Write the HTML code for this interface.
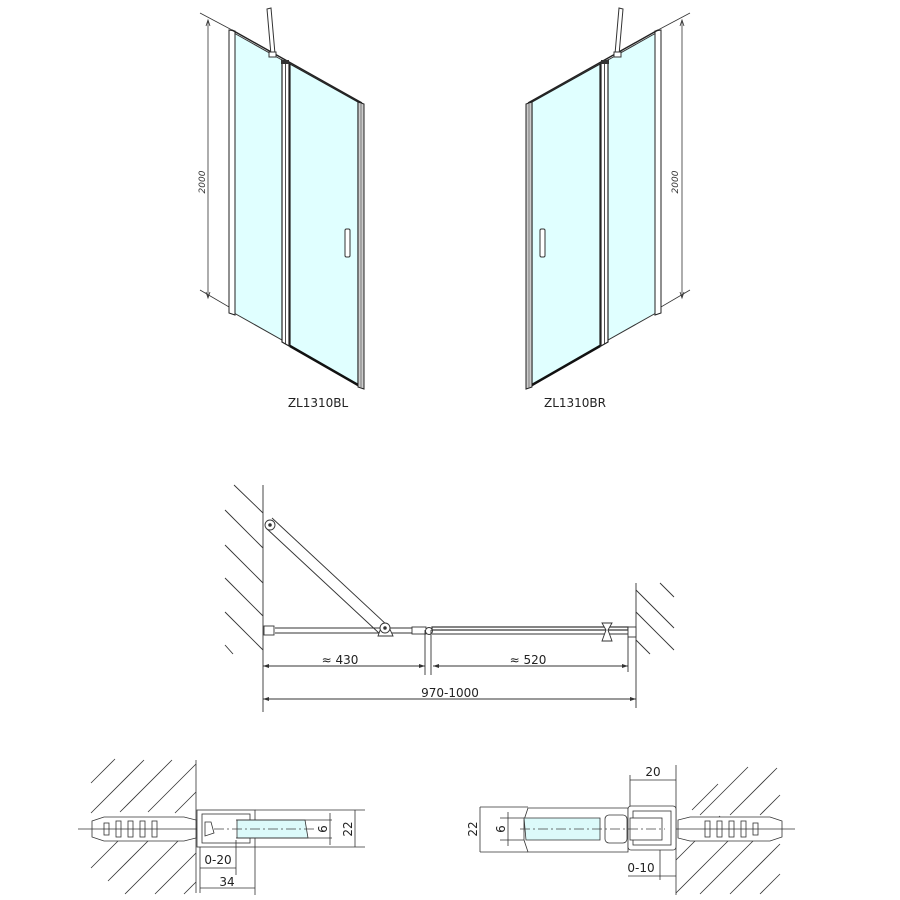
<!DOCTYPE html>
<html><head><meta charset="utf-8"><style>
html,body{margin:0;padding:0;background:#fff;}
svg{display:block;font-family:"DejaVu Sans","Liberation Sans",sans-serif;}
</style></head><body>
<svg width="900" height="900" viewBox="0 0 900 900" xmlns="http://www.w3.org/2000/svg">
<defs>
<g id="door">
  <!-- extension lines -->
  <line x1="200" y1="13" x2="232" y2="30" stroke="#333" stroke-width="0.8"/>
  <line x1="200" y1="290" x2="282" y2="338" stroke="#333" stroke-width="0.8"/>
  <line x1="208" y1="20" x2="208" y2="298" stroke="#333" stroke-width="0.8"/>
  <path d="M206,26 L208,20 L210,26" fill="none" stroke="#333" stroke-width="0.8"/>
  <path d="M206,292 L208,298 L210,292" fill="none" stroke="#333" stroke-width="0.8"/>
  <!-- fixed glass -->
  <polygon points="234,33 282,60 282,340 234,313" fill="#e0ffff" stroke="#333" stroke-width="1"/>
  <!-- wall strip -->
  <polygon points="229,30 235,31 235,315 229,313" fill="#fff" stroke="#222" stroke-width="1"/>
  <!-- divider -->
  <polygon points="282,60 289,63 289,346 282,342" fill="#fff" stroke="#222" stroke-width="1.2"/>
  <line x1="285.5" y1="62" x2="285.5" y2="344" stroke="#222" stroke-width="0.8"/>
  <!-- door glass -->
  <polygon points="290,64 358,102 358,385 290,346" fill="#e0ffff" stroke="#222" stroke-width="1.2"/>
  <line x1="290" y1="346" x2="358" y2="385" stroke="#111" stroke-width="2.5"/>
  <!-- top rail line -->
  <line x1="232" y1="30" x2="362" y2="103" stroke="#222" stroke-width="1.4"/>
  <!-- right post -->
  <polygon points="358,102 364,104 364,389 358,387" fill="#ccc" stroke="#222" stroke-width="1"/>
  <line x1="361" y1="104" x2="361" y2="388" stroke="#666" stroke-width="0.8"/>
  <!-- handle -->
  <rect x="345" y="229" width="5" height="28" rx="1.5" fill="#fff" stroke="#333" stroke-width="1"/>
  <!-- ceiling bracket -->
  <polygon points="267,9 271,8 275,54 271,55" fill="#fff" stroke="#333" stroke-width="1"/>
  <rect x="269" y="52" width="7" height="5" fill="#fff" stroke="#333" stroke-width="1"/>
  <rect x="281" y="60" width="8" height="4" fill="#333"/>
</g>
</defs>

<use href="#door"/>
<g transform="translate(890,0) scale(-1,1)"><use href="#door"/></g>

<text x="0" y="0" font-size="9" font-style="italic" fill="#333" transform="translate(205,182) rotate(-90)" text-anchor="middle">2000</text>
<text x="0" y="0" font-size="9" font-style="italic" fill="#333" transform="translate(678,182) rotate(-90)" text-anchor="middle">2000</text>
<text x="318" y="407" font-size="12" text-anchor="middle" fill="#222">ZL1310BL</text>
<text x="575" y="407" font-size="12" text-anchor="middle" fill="#222">ZL1310BR</text>

<!-- PLAN VIEW -->
<g stroke="#333" stroke-width="0.9" fill="none">
  <line x1="263" y1="485" x2="263" y2="712"/>
  <line x1="234" y1="485" x2="263" y2="513"/>
  <line x1="225" y1="510" x2="263" y2="548"/>
  <line x1="225" y1="545" x2="263" y2="583"/>
  <line x1="225" y1="578" x2="263" y2="616"/>
  <line x1="225" y1="612" x2="263" y2="650"/>
  <line x1="225" y1="645" x2="233" y2="654"/>
  <line x1="636" y1="583" x2="636" y2="708"/>
  <line x1="636" y1="590" x2="674" y2="628"/>
  <line x1="660" y1="583" x2="674" y2="597"/>
  <line x1="636" y1="612" x2="674" y2="650"/>
  <line x1="636" y1="640" x2="650" y2="654"/>
  <!-- glass fixed -->
  <line x1="275" y1="628" x2="412" y2="628"/>
  <line x1="275" y1="633" x2="412" y2="633"/>
  <rect x="264" y="626" width="10" height="9" fill="#fff"/>
  <!-- arm -->
  <line x1="272" y1="518" x2="388" y2="626"/>
  <line x1="266" y1="528" x2="380" y2="634"/>
  <circle cx="270" cy="525" r="5" fill="#fff"/>
  <circle cx="270" cy="525" r="1.3" fill="#333"/>
  <path d="M378,636 L382,625 L388,625 L393,636 Z" fill="#fff"/>
  <circle cx="385" cy="628" r="5" fill="#fff"/>
  <circle cx="385" cy="628" r="1.3" fill="#333"/>
  <!-- hinge -->
  <rect x="412" y="627" width="14" height="7" fill="#fff"/>
  <circle cx="429" cy="631" r="3.5" fill="#fff"/>
  <!-- door -->
  <rect x="432" y="627" width="196" height="3" fill="#fff" stroke-width="1.2"/>
  <line x1="432" y1="634" x2="628" y2="634"/>
  <rect x="628" y="627" width="8" height="10" fill="#fff"/>
  <path d="M602,623 L612,623 L608,630 L612,641 L602,641 L606,630 Z" fill="#fff"/>
  <!-- dims -->
  <line x1="425" y1="630" x2="425" y2="675"/>
  <line x1="431" y1="630" x2="431" y2="675"/>
  <line x1="263" y1="666" x2="425" y2="666"/>
  <line x1="433" y1="666" x2="628" y2="666"/>
  <line x1="628" y1="637" x2="628" y2="672"/>
  <line x1="263" y1="699" x2="636" y2="699"/>
</g>
<g fill="#333">
  <path d="M263,666 l6,-2 v4 z"/><path d="M425,666 l-6,-2 v4 z"/>
  <path d="M433,666 l6,-2 v4 z"/><path d="M628,666 l-6,-2 v4 z"/>
  <path d="M263,699 l6,-2 v4 z"/><path d="M636,699 l-6,-2 v4 z"/>
</g>
<text x="340" y="664" font-size="12" text-anchor="middle" fill="#222">≈ 430</text>
<text x="528" y="664" font-size="12" text-anchor="middle" fill="#222">≈ 520</text>
<text x="450" y="697" font-size="12" text-anchor="middle" fill="#222">970-1000</text>

<!-- DETAIL LEFT -->
<g stroke="#333" stroke-width="0.8" fill="none">
  <line x1="196" y1="760" x2="196" y2="893"/>
  <line x1="91" y1="783" x2="115" y2="759"/>
  <line x1="91" y1="813" x2="144" y2="760"/>
  <line x1="120" y1="812" x2="172" y2="760"/>
  <line x1="148" y1="812" x2="196" y2="764"/>
  <line x1="175" y1="813" x2="196" y2="792"/>
  <line x1="91" y1="868" x2="118" y2="841"/>
  <line x1="108" y1="881" x2="150" y2="839"/>
  <line x1="125" y1="894" x2="180" y2="839"/>
  <line x1="155" y1="894" x2="196" y2="853"/>
  <line x1="184" y1="894" x2="196" y2="882"/>
  <!-- anchor -->
  <path d="M92,821 L104,817 L184,817 L196,820 L196,838 L184,841 L104,841 L92,837 Z" fill="#fff"/>
  <rect x="104" y="823" width="5" height="12" fill="#fff"/><rect x="116" y="821" width="5" height="16" fill="#fff"/>
  <rect x="128" y="821" width="5" height="16" fill="#fff"/><rect x="140" y="821" width="5" height="16" fill="#fff"/>
  <rect x="152" y="821" width="5" height="16" fill="#fff"/>
  <line x1="78" y1="829" x2="200" y2="829"/>
  <!-- profile -->
  <rect x="197" y="810" width="58" height="37" fill="#fff"/>
  <rect x="202" y="814" width="48" height="29"/>
  <path d="M205,822 L211,822 L214,833 L205,836 Z"/>
  <line x1="255" y1="810" x2="365" y2="810"/>
  <line x1="255" y1="847" x2="365" y2="847"/>
  <polygon points="237,820 305,820 308,838 237,838" fill="#dcfafa"/>
  <line x1="236" y1="820" x2="332" y2="820"/>
  <line x1="236" y1="838" x2="332" y2="838"/>
  <line x1="214" y1="829" x2="315" y2="829" stroke="#444" stroke-dasharray="10,3,2,3"/>
  <line x1="330" y1="813" x2="330" y2="845"/>
  <line x1="355" y1="810" x2="355" y2="847"/>
  <line x1="200" y1="847" x2="200" y2="893"/>
  <line x1="236" y1="840" x2="236" y2="875"/>
  <line x1="255" y1="847" x2="255" y2="895"/>
  <line x1="200" y1="868" x2="236" y2="868"/>
  <line x1="200" y1="888" x2="255" y2="888"/>
</g>
<text x="218" y="864" font-size="12" text-anchor="middle" fill="#222">0-20</text>
<text x="227" y="886" font-size="12" text-anchor="middle" fill="#222">34</text>
<text transform="translate(327,829) rotate(-90)" font-size="12" text-anchor="middle" fill="#222">6</text>
<text transform="translate(352,829) rotate(-90)" font-size="12" text-anchor="middle" fill="#222">22</text>

<!-- DETAIL RIGHT -->
<g stroke="#333" stroke-width="0.8" fill="none">
  <line x1="676" y1="765" x2="676" y2="895"/>
  <line x1="692" y1="810" x2="718" y2="784"/>
  <line x1="700" y1="815" x2="748" y2="767"/>
  <line x1="730" y1="815" x2="777" y2="768"/>
  <line x1="760" y1="815" x2="780" y2="795"/>
  <line x1="676" y1="860" x2="720" y2="816"/>
  <line x1="676" y1="893" x2="730" y2="839"/>
  <line x1="700" y1="894" x2="755" y2="839"/>
  <line x1="730" y1="894" x2="780" y2="844"/>
  <line x1="760" y1="894" x2="780" y2="874"/>
  <path d="M782,821 L770,817 L690,817 L678,820 L678,838 L690,841 L770,841 L782,837 Z" fill="#fff"/>
  <rect x="705" y="821" width="5" height="16" fill="#fff"/><rect x="717" y="821" width="5" height="16" fill="#fff"/>
  <rect x="729" y="821" width="5" height="16" fill="#fff"/><rect x="741" y="821" width="5" height="16" fill="#fff"/>
  <rect x="753" y="823" width="5" height="12" fill="#fff"/>
  <line x1="670" y1="829" x2="795" y2="829"/>
  <path d="M528,808 L628,808 L628,852 L528,852 L524,840 L524,820 Z" fill="#fff"/>
  <rect x="628" y="806" width="48" height="44" rx="3" fill="#fff"/>
  <rect x="633" y="811" width="38" height="34"/>
  <polygon points="524,818 600,818 600,840 526,840" fill="#dcfafa"/>
  <rect x="605" y="815" width="22" height="28" rx="4" fill="#fff"/>
  <rect x="630" y="818" width="32" height="22" fill="#fff"/>
  <line x1="480" y1="807" x2="528" y2="807"/>
  <line x1="480" y1="852" x2="528" y2="852"/>
  <line x1="500" y1="818" x2="524" y2="818"/>
  <line x1="500" y1="840" x2="524" y2="840"/>
  <line x1="520" y1="829" x2="665" y2="829" stroke="#444" stroke-dasharray="10,3,2,3"/>
  <line x1="480" y1="807" x2="480" y2="852"/>
  <line x1="508" y1="812" x2="508" y2="846"/>
  <line x1="630" y1="775" x2="630" y2="806"/>
  <line x1="630" y1="780" x2="676" y2="780"/>
  <line x1="660" y1="850" x2="660" y2="880"/>
  <line x1="628" y1="876" x2="676" y2="876"/>
</g>
<text x="653" y="776" font-size="12" text-anchor="middle" fill="#222">20</text>
<text x="641" y="872" font-size="12" text-anchor="middle" fill="#222">0-10</text>
<text transform="translate(477,829) rotate(-90)" font-size="12" text-anchor="middle" fill="#222">22</text>
<text transform="translate(505,829) rotate(-90)" font-size="12" text-anchor="middle" fill="#222">6</text>
</svg>
</body></html>
